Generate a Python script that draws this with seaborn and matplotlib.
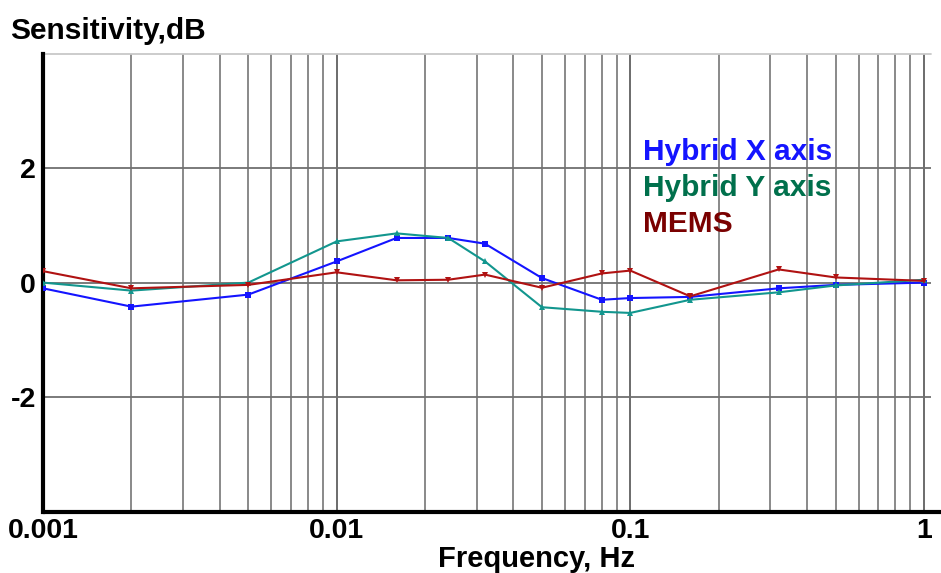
import numpy as np
import pandas as pd
import matplotlib
matplotlib.use("Agg")
import matplotlib.pyplot as plt
from matplotlib.lines import Line2D
from matplotlib.ticker import FixedLocator, NullFormatter
import seaborn as sns

# ---- data ----
freq = [0.001, 0.002, 0.005, 0.01, 0.016, 0.024, 0.032, 0.05, 0.08, 0.1, 0.16, 0.32, 0.5, 1.0]
hybrid_x = [-0.1, -0.42, -0.21, 0.37, 0.78, 0.78, 0.68, 0.08, -0.3, -0.27, -0.25, -0.1, -0.04, 0.0]
hybrid_y = [0.0, -0.14, 0.0, 0.72, 0.86, 0.78, 0.37, -0.43, -0.51, -0.53, -0.3, -0.17, -0.05, 0.05]
mems = [0.2, -0.1, -0.04, 0.18, 0.04, 0.05, 0.14, -0.09, 0.16, 0.21, -0.24, 0.23, 0.09, 0.03]
series_names = ["Hybrid X axis", "Hybrid Y axis", "MEMS"]
x_ticks = [0.001, 0.01, 0.1, 1]
x_tick_labels = ["0.001", "0.01", "0.1", "1"]
y_ticks = [-2, 0, 2]
y_tick_labels = ["-2", "0", "2"]

df = pd.DataFrame({
    "freq": freq * 3,
    "sens": hybrid_x + hybrid_y + mems,
    "series": [series_names[0]] * len(freq) + [series_names[1]] * len(freq) + [series_names[2]] * len(freq),
})

line_colors = {"Hybrid X axis": "#1414ff", "Hybrid Y axis": "#12968e", "MEMS": "#b01212"}
text_colors = {"Hybrid X axis": "#1414ff", "Hybrid Y axis": "#00704c", "MEMS": "#7a0000"}
markers = {"Hybrid X axis": "s", "Hybrid Y axis": "^", "MEMS": "v"}

sns.set_theme(style="white")
plt.rcParams["font.family"] = ["Liberation Sans", "DejaVu Sans"]
plt.rcParams["font.weight"] = "bold"
plt.rcParams["text.color"] = "black"
plt.rcParams["xtick.color"] = "black"
plt.rcParams["ytick.color"] = "black"

W, H = 941, 573
fig = plt.figure(figsize=(W / 100, H / 100), dpi=100)
left, right, top, bottom = 43, 931, 53.7, 511.5
ax = fig.add_axes([left / W, 1 - bottom / H, (right - left) / W, (bottom - top) / H])

ax.set_xscale("log")
ax.set_xlim(0.001, 1.057)
ax.set_ylim(-4, 4)

# grid
minor = [m * 10.0 ** e for e in range(-3, 0) for m in range(2, 10)]
for xv in minor:
    ax.axvline(xv, color="#808080", lw=1.3, zorder=0)
for xv in x_ticks[1:]:
    ax.axvline(xv, color="#606060", lw=1.3, zorder=0)
for yv in y_ticks:
    ax.axhline(yv, color="#707070", lw=1.3, zorder=0)
ax.axhline(4, color="#c8c8c8", lw=1.3, zorder=0, clip_on=False)

sns.lineplot(data=df, x="freq", y="sens", hue="series", style="series",
             palette=line_colors, markers=markers, dashes=False,
             markersize=5, markeredgewidth=0, linewidth=1.5,
             legend=False, ax=ax, zorder=3)

ax.xaxis.set_major_locator(FixedLocator(x_ticks))
ax.set_xticklabels(x_tick_labels)
ax.xaxis.set_minor_formatter(NullFormatter())
ax.set_yticks(y_ticks)
ax.set_yticklabels(y_tick_labels)
ax.tick_params(axis="both", which="both", length=0, labelsize=20.5, labelcolor="black")
ax.tick_params(axis="x", pad=5)
ax.tick_params(axis="y", pad=5)
for lab in ax.get_xticklabels() + ax.get_yticklabels():
    lab.set_fontweight("bold")
ax.set_xlabel("")
ax.set_ylabel("")

for s in ["top", "right"]:
    ax.spines[s].set_visible(False)
ax.spines["bottom"].set_visible(False)
ax.spines["left"].set_color("black")
ax.spines["left"].set_linewidth(3)
# bottom axis line extends to the figure edge
fig.add_artist(Line2D([left / W, 1.0], [1 - bottom / H, 1 - bottom / H],
                      color="black", lw=3, transform=fig.transFigure))

# series labels
ys = [160, 196, 232]
for name, yb in zip(series_names, ys):
    fig.text(643 / W, 1 - yb / H, name, color=text_colors[name], fontsize=21.5,
             fontweight="bold", va="baseline", ha="left")

fig.text(10 / W, 1 - 39 / H, "Sensitivity,dB", fontsize=21.5, fontweight="bold",
         va="baseline", ha="left", color="black")
fig.text(537 / W, 1 - 567 / H, "Frequency, Hz", fontsize=21, fontweight="bold",
         va="baseline", ha="center", color="black")

fig.savefig("out.png", dpi=100)
